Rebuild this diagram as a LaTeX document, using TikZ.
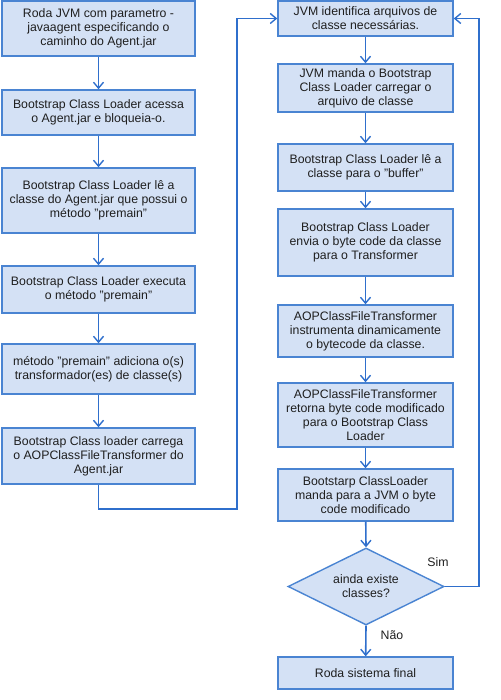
\documentclass[tikz,border=0pt]{standalone}
\usepackage{fontspec}
\setmainfont{Liberation Sans}
\usetikzlibrary{arrows.meta,shapes.geometric}
\definecolor{boxfill}{HTML}{D4E1F5}
\definecolor{boxline}{HTML}{4A84D2}
\definecolor{flowline}{HTML}{2F6FCC}
\begin{document}
\begin{tikzpicture}[x=1pt,y=-1pt,
  stepbox/.style={draw=boxline,fill=boxfill,line width=1.4pt,inner sep=0pt,align=center,
    font=\fontsize{12.3}{14}\selectfont,text=black!88},
  decbox/.style={diamond,draw=boxline,fill=boxfill,line width=1.4pt,inner sep=0pt,align=center,
    font=\fontsize{12.3}{14}\selectfont,text=black!88},
  flow/.style={draw=flowline,line width=1.6pt,-{Straight Barb[length=6pt,width=10pt,line width=1.4pt]}},
  lbl/.style={font=\fontsize{12.3}{14}\selectfont,text=black!88}]
\useasboundingbox (0,0) rectangle (500,700);
% left column
\node[stepbox,minimum width=193pt,minimum height=55pt] (L1) at (98.5,28.5) {Roda JVM com parametro -\\javaagent especificando o\\caminho do Agent.jar};
\node[stepbox,minimum width=193pt,minimum height=45pt] (L2) at (98.5,112.5) {Bootstrap Class Loader acessa\\o Agent.jar e bloqueia-o.};
\node[stepbox,minimum width=193pt,minimum height=65pt] (L3) at (98.5,200.5) {Bootstrap Class Loader lê a\\classe do Agent.jar que possui o\\método "premain"};
\node[stepbox,minimum width=193pt,minimum height=47pt] (L4) at (98.5,289.5) {Bootstrap Class Loader executa\\o método "premain"};
\node[stepbox,minimum width=193pt,minimum height=50pt] (L5) at (98.5,369) {método "premain" adiciona o(s)\\transformador(es) de classe(s)};
\node[stepbox,minimum width=193pt,minimum height=56pt] (L6) at (98.5,456) {Bootstrap Class loader carrega\\o AOPClassFileTransformer do\\Agent.jar};
% right column
\node[stepbox,minimum width=175pt,minimum height=35pt] (R1) at (365.5,18.5) {JVM identifica arquivos de\\classe necessárias.};
\node[stepbox,minimum width=175pt,minimum height=48pt] (R2) at (365.5,88) {JVM manda o Bootstrap\\Class Loader carregar o\\arquivo de classe};
\node[stepbox,minimum width=175pt,minimum height=47pt] (R3) at (365.5,167.5) {Bootstrap Class Loader lê a\\classe para o "buffer"};
\node[stepbox,minimum width=175pt,minimum height=67pt] (R4) at (365.5,242.5) {Bootstrap Class Loader\\envia o byte code da classe\\para o Transformer};
\node[stepbox,minimum width=175pt,minimum height=52pt] (R5) at (365.5,331) {AOPClassFileTransformer\\instrumenta dinamicamente\\o bytecode da classe.};
\node[stepbox,minimum width=175pt,minimum height=64pt] (R6) at (365.5,415) {AOPClassFileTransformer\\retorna byte code modificado\\para o Bootstrap Class\\Loader};
\node[stepbox,minimum width=175pt,minimum height=52pt] (R7) at (365.5,495) {Bootstarp ClassLoader\\manda para a JVM o byte\\code modificado};
\node[decbox,minimum width=156pt,minimum height=77pt,aspect=2] (D) at (366,586.5) {ainda existe\\classes?};
\node[stepbox,minimum width=175pt,minimum height=32pt] (F) at (365.5,673) {Roda sistema final};
% connectors
\draw[flow] (L1) -- (L2);
\draw[flow] (L2) -- (L3);
\draw[flow] (L3) -- (L4);
\draw[flow] (L4) -- (L5);
\draw[flow] (L5) -- (L6);
\coordinate (c1) at (237,509);
\coordinate (c2) at (237,18.5);
\draw[flow] (L6.south) |- (c1) -- (c2) -- (R1.west);
\draw[flow] (R1) -- (R2);
\draw[flow] (R2) -- (R3);
\draw[flow] (R3) -- (R4);
\draw[flow] (R4) -- (R5);
\draw[flow] (R5) -- (R6);
\draw[flow] (R6) -- (R7);
\draw[flow] (R7) -- (D.north);
\coordinate (s1) at (479,586.5);
\coordinate (s2) at (479,18.5);
\draw[flow] (D.east) -- (s1) -- (s2) -- (R1.east);
\draw[flow] (D.south) -- (F);
\node[lbl] (sim) at (438,562) {Sim};
\node[lbl] (nao) at (392,635) {Não};
\end{tikzpicture}
\end{document}
